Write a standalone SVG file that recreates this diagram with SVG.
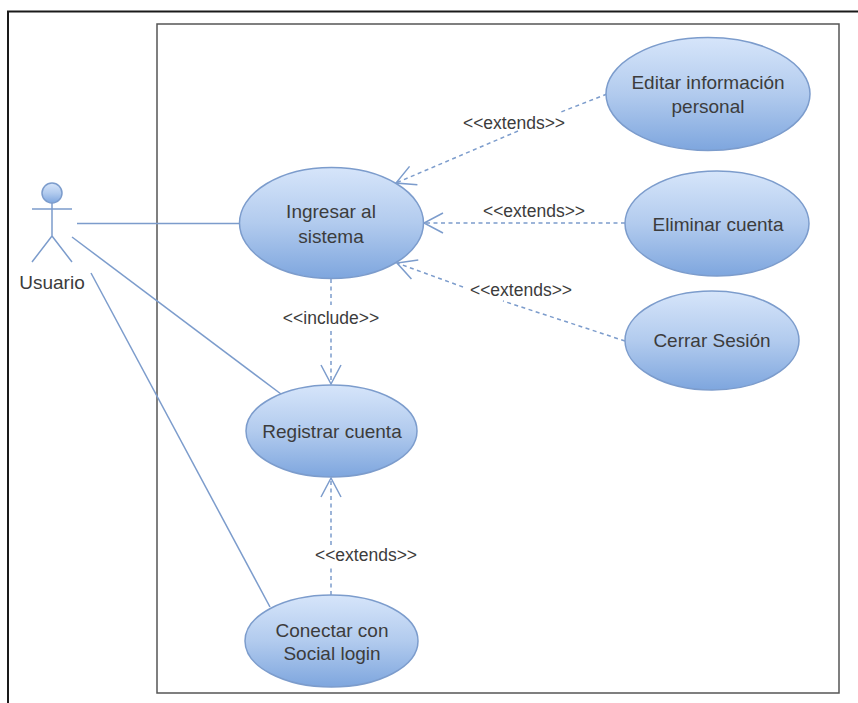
<svg xmlns="http://www.w3.org/2000/svg" width="858" height="703" viewBox="0 0 858 703">
<style>
text{font-family:"Liberation Sans",Arial,sans-serif;fill:#3c3c3c;text-anchor:middle}
.n{font-size:19px}.l{font-size:17.500px}
.u{fill:url(#g);stroke:#7c9ccc;stroke-width:1.5}
.c{fill:none;stroke:#7c9ccc;stroke-width:1.5}
.d{stroke-dasharray:4 3.500}
</style>
<defs>
<linearGradient id="g" x1="0" y1="0" x2="0" y2="1"><stop offset="0" stop-color="#d6e5fa"/><stop offset="0.5" stop-color="#b2cbee"/><stop offset="1" stop-color="#7ea6de"/></linearGradient>
<marker id="a" markerUnits="userSpaceOnUse" markerWidth="24" markerHeight="24" refX="20" refY="10" orient="auto" overflow="visible"><path d="M1 0L20 10L1 20" fill="none" stroke="#7c9ccc" stroke-width="1.5"/></marker>
</defs>
<rect width="858" height="703" fill="#fff"/>
<path d="M8 703V11.500H858" fill="none" stroke="#1a1a1a" stroke-width="2"/>
<rect x="157" y="24" width="682" height="669" fill="none" stroke="#555" stroke-width="1.500"/>
<g id="connectors">
<path class="c" d="M77 223.500H240"/>
<path class="c" d="M72 237L281 394"/>
<path class="c" d="M91 273L270 607"/>
<path class="c d" d="M607 94L561 112M518 131L396 183" marker-end="url(#a)"/>
<path class="c d" d="M625 223H424" marker-end="url(#a)"/>
<path class="c d" d="M625 341L503 301M463 287L397 263" marker-end="url(#a)"/>
<path class="c d" d="M331 279V305M331 331V384" marker-end="url(#a)"/>
<path class="c d" d="M331 595V567M331 545V478" marker-end="url(#a)"/>
</g>
<g id="actor-usuario">
<circle class="u" cx="52" cy="193" r="10"/>
<path class="c" d="M32 209H72M52 203V236L32 262M52 236L72 262"/>
<text class="n" x="52" y="289">Usuario</text>
</g>
<g id="uc-ingresar"><ellipse class="u" cx="331.500" cy="223" rx="92" ry="55.500"/><text class="n" x="331" y="218">Ingresar al</text><text class="n" x="331" y="243">sistema</text></g>
<g id="uc-registrar"><ellipse class="u" cx="331.500" cy="431" rx="85.500" ry="46"/><text class="n" x="332" y="438">Registrar cuenta</text></g>
<g id="uc-conectar"><ellipse class="u" cx="331.500" cy="641" rx="86.500" ry="46"/><text class="n" x="332" y="637">Conectar con</text><text class="n" x="332" y="660">Social login</text></g>
<g id="uc-editar"><ellipse class="u" cx="708" cy="94" rx="102" ry="56.500"/><text class="n" x="708" y="89">Editar información</text><text class="n" x="708" y="113">personal</text></g>
<g id="uc-eliminar"><ellipse class="u" cx="717" cy="223.500" rx="92" ry="52.500"/><text class="n" x="718" y="231">Eliminar cuenta</text></g>
<g id="uc-cerrar"><ellipse class="u" cx="712" cy="340.500" rx="87" ry="49.500"/><text class="n" x="712" y="347">Cerrar Sesión</text></g>
<g id="labels">
<text class="l" x="514" y="129">&lt;&lt;extends&gt;&gt;</text>
<text class="l" x="534" y="217">&lt;&lt;extends&gt;&gt;</text>
<text class="l" x="521" y="296">&lt;&lt;extends&gt;&gt;</text>
<text class="l" x="331" y="324">&lt;&lt;include&gt;&gt;</text>
<text class="l" x="366" y="561">&lt;&lt;extends&gt;&gt;</text>
</g>
</svg>
